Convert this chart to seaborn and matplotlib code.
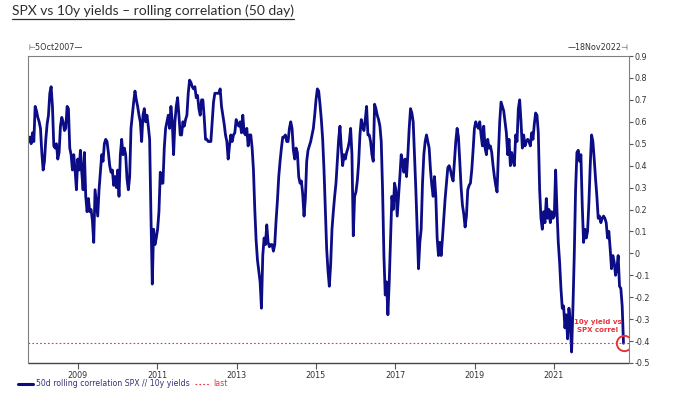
import numpy as np
import pandas as pd
import matplotlib
matplotlib.use("Agg")
import matplotlib.pyplot as plt
from matplotlib.lines import Line2D
from matplotlib.ticker import FuncFormatter
import seaborn as sns

# ---------------- data ----------------
title = "SPX vs 10y yields \u2013 rolling correlation (50 day)"
series_label = "50d rolling correlation SPX // 10y yields"
last_label = "last"
note = "10y yield vs\nSPX correl"
start_date = "2007-10-05"
end_date = "2022-10-03"
axis_end = "2022-11-18"
start_tag = "5Oct2007"
end_tag = "18Nov2022"
tick_years = [2009, 2011, 2013, 2015, 2017, 2019, 2021]
y_ticks = [0.9, 0.8, 0.7, 0.6, 0.5, 0.4, 0.3, 0.2, 0.1, 0.0,
           -0.1, -0.2, -0.3, -0.4, -0.5]

corr_2007_2011 = [
    0.51, 0.53, 0.50, 0.55, 0.51, 0.67, 0.65, 0.62, 0.60, 0.57,
    0.46, 0.38, 0.42, 0.52, 0.59, 0.63, 0.73, 0.76, 0.67, 0.49,
    0.48, 0.50, 0.43, 0.46, 0.58, 0.62, 0.60, 0.56, 0.57, 0.67,
    0.66, 0.48, 0.45, 0.38, 0.45, 0.38, 0.29, 0.43, 0.38, 0.47,
    0.37, 0.29, 0.46, 0.26, 0.19, 0.25, 0.19, 0.20, 0.15, 0.05,
    0.29, 0.23, 0.17, 0.29, 0.37, 0.45, 0.42, 0.50, 0.52, 0.51,
    0.46, 0.40, 0.37, 0.38, 0.31, 0.35, 0.30, 0.38, 0.26, 0.45,
    0.52, 0.45, 0.48, 0.45, 0.34, 0.29, 0.35, 0.57, 0.63, 0.69,
    0.74, 0.70, 0.67, 0.63, 0.60, 0.51, 0.63, 0.66, 0.60, 0.63,
    0.58, 0.52, 0.17, -0.14, 0.11, 0.04, 0.07, 0.11, 0.19, 0.37,
    0.32, 0.32, 0.48, 0.57, 0.60, 0.63, 0.57, 0.67, 0.60, 0.45,
    0.60, 0.67, 0.71, 0.63,
]
corr_2011_2015 = [
    0.54, 0.54, 0.60, 0.58, 0.61, 0.63, 0.73, 0.79, 0.78, 0.76,
    0.75, 0.76, 0.71, 0.72, 0.66, 0.63, 0.70, 0.70, 0.62, 0.52,
    0.52, 0.51, 0.51, 0.51, 0.60, 0.69, 0.73, 0.73, 0.73, 0.73,
    0.75, 0.67, 0.63, 0.59, 0.54, 0.51, 0.43, 0.49, 0.54, 0.51,
    0.54, 0.55, 0.61, 0.59, 0.58, 0.60, 0.55, 0.63, 0.55, 0.54,
    0.57, 0.49, 0.54, 0.54, 0.48, 0.38, 0.20, 0.06, -0.03, -0.08,
    -0.13, -0.25, -0.01, 0.07, 0.04, 0.13, 0.05, 0.03, 0.04, 0.04,
    0.01, 0.04, 0.15, 0.24, 0.35, 0.42, 0.48, 0.53, 0.53, 0.54,
    0.51, 0.51, 0.57, 0.60, 0.57, 0.47, 0.43, 0.48, 0.46, 0.35,
    0.32, 0.33, 0.27, 0.17, 0.25, 0.42, 0.47, 0.49, 0.51, 0.54,
    0.57, 0.63, 0.70, 0.75, 0.74, 0.68, 0.61, 0.52, 0.38, 0.20,
    0.02, -0.08, -0.15,
]
corr_2015_2019 = [
    -0.05, 0.11, 0.19, 0.26, 0.32, 0.42, 0.52, 0.58, 0.48, 0.40,
    0.45, 0.43, 0.46, 0.48, 0.51, 0.57, 0.45, 0.08, 0.26, 0.28,
    0.33, 0.41, 0.54, 0.61, 0.58, 0.56, 0.61, 0.67, 0.54, 0.54,
    0.51, 0.45, 0.42, 0.68, 0.66, 0.63, 0.61, 0.58, 0.51, 0.29,
    -0.01, -0.19, -0.13, -0.28, -0.13, 0.07, 0.26, 0.20, 0.32, 0.29,
    0.17, 0.26, 0.35, 0.45, 0.42, 0.37, 0.43, 0.35, 0.45, 0.57,
    0.66, 0.64, 0.60, 0.45, 0.29, 0.11, -0.07, 0.05, 0.11, 0.32,
    0.45, 0.51, 0.54, 0.51, 0.48, 0.38, 0.31, 0.26, 0.35, 0.26,
    0.07, -0.01, 0.05, -0.01, 0.07, 0.16, 0.25, 0.32, 0.39, 0.40,
    0.38, 0.35, 0.33, 0.42, 0.51, 0.57, 0.53, 0.42, 0.30, 0.22,
    0.18, 0.12, 0.17, 0.29, 0.31, 0.32, 0.38, 0.47, 0.57, 0.60,
    0.58, 0.57,
]
corr_2019_2022 = [
    0.60, 0.54, 0.49, 0.58, 0.48, 0.45, 0.52, 0.48, 0.49, 0.46,
    0.40, 0.35, 0.31, 0.28, 0.45, 0.60, 0.69, 0.67, 0.65, 0.60,
    0.55, 0.45, 0.52, 0.40, 0.46, 0.42, 0.40, 0.54, 0.51, 0.66,
    0.70, 0.60, 0.48, 0.54, 0.49, 0.51, 0.52, 0.51, 0.49, 0.55,
    0.52, 0.59, 0.64, 0.63, 0.55, 0.29, 0.16, 0.11, 0.19, 0.14,
    0.25, 0.16, 0.20, 0.14, 0.19, 0.16, 0.17, 0.38, 0.20, 0.05,
    -0.04, -0.16, -0.25, -0.24, -0.34, -0.28, -0.39, -0.25, -0.31, -0.45,
    -0.25, -0.01, 0.29, 0.46, 0.47, 0.42, 0.45, 0.22, 0.05, 0.11,
    0.07, 0.10, 0.23, 0.40, 0.54, 0.51, 0.43, 0.34, 0.26, 0.16,
    0.17, 0.14, 0.16, 0.17, 0.16, 0.14, 0.07, 0.10, 0.02, -0.07,
    -0.01, -0.04, -0.10, -0.07, -0.01, -0.15, -0.16, -0.24, -0.41,
]

# ---------------- style ----------------
navy = "#0c0c86"
red = "#e8323c"
grey_txt = "#333333"

sns.set_style("white")
plt.rcParams["font.family"] = ["DejaVu Sans"]

corr = corr_2007_2011 + corr_2011_2015 + corr_2015_2019 + corr_2019_2022
dates = pd.date_range(start_date, end_date, periods=len(corr))
df = pd.DataFrame({"date": dates, "corr": corr})

W, H = 679, 399
fig = plt.figure(figsize=(W / 100, H / 100), dpi=100)
ax = fig.add_axes([28.5 / W, 1 - 363 / H, 600 / W, 307 / H])

sns.lineplot(data=df, x="date", y="corr", ax=ax, color=navy, lw=2.0,
             legend=False)
last_val = corr[-1]
ax.axhline(last_val, color=red, lw=0.8, ls=(0, (1.5, 2.0)))

ax.set_xlim(pd.Timestamp(start_date), pd.Timestamp(axis_end))
ax.set_ylim(-0.5, 0.9)
ax.set_xlabel("")
ax.set_ylabel("")

# y axis on the right
ax.yaxis.tick_right()
ax.set_yticks(y_ticks)
ax.yaxis.set_major_formatter(
    FuncFormatter(lambda v, p: "0" if abs(v) < 1e-9 else f"{v:.1f}"))
ax.tick_params(axis="y", direction="out", length=3, width=0.8,
               color="#555555", labelsize=5.8, labelcolor=grey_txt, pad=1.5,
               right=True, left=False)
ax.set_xticks([pd.Timestamp(f"{y}-01-01") for y in tick_years])
ax.set_xticklabels([str(y) for y in tick_years])
ax.tick_params(axis="x", direction="out", length=4, width=0.8,
               color="#555555", labelsize=5.8, labelcolor=grey_txt, pad=2,
               bottom=True)

for side in ["left", "top", "right"]:
    ax.spines[side].set_visible(True)
    ax.spines[side].set_color("#808080")
    ax.spines[side].set_linewidth(0.8)
ax.spines["bottom"].set_color("#444444")
ax.spines["bottom"].set_linewidth(1.0)

# circle around last point and annotation
ax.plot([dates[-1]], [last_val], marker="o", mfc="none", mec=red, ms=11,
        mew=1.4, ls="none")
ax.annotate(note, xy=(dates[-1], last_val), xytext=(-26, 17),
            textcoords="offset pixels", ha="center", va="center",
            color=red, fontsize=5.0, fontweight="bold", linespacing=1.4)

# date tags above the plot
fig.text(28 / W, 1 - 48 / H, "\u22a2" + start_tag + "\u2014", fontsize=5.8,
         color=grey_txt, ha="left", va="center")
fig.text(629 / W, 1 - 48 / H, "\u2014" + end_tag + "\u22a3", fontsize=5.8,
         color=grey_txt, ha="right", va="center")

# legend
handles = [Line2D([], [], color=navy, lw=2.2),
           Line2D([], [], color=red, lw=0.8, ls=(0, (1.5, 2.0)))]
leg = fig.legend(handles, [series_label, last_label], loc="center left",
                 bbox_to_anchor=(18 / W, 1 - 384 / H), ncol=2, frameon=False,
                 fontsize=5.6, handlelength=1.9, handletextpad=0.4,
                 columnspacing=0.7, borderaxespad=0, borderpad=0)
leg.get_texts()[0].set_color("#33337a")
leg.get_texts()[1].set_color(red)

# title with underline
t = fig.text(12 / W, 1 - 15 / H, title, fontsize=10.0,
             family=["Lato", "DejaVu Sans"], color="#2e2e2e",
             ha="left", va="baseline")
fig.canvas.draw()
bb = t.get_window_extent(fig.canvas.get_renderer())
uy = 1 - 18.5 / H
fig.add_artist(Line2D([bb.x0 / W, bb.x1 / W], [uy, uy], color="#2e2e2e",
                      lw=0.9, transform=fig.transFigure))

fig.savefig("out.png", dpi=100)
